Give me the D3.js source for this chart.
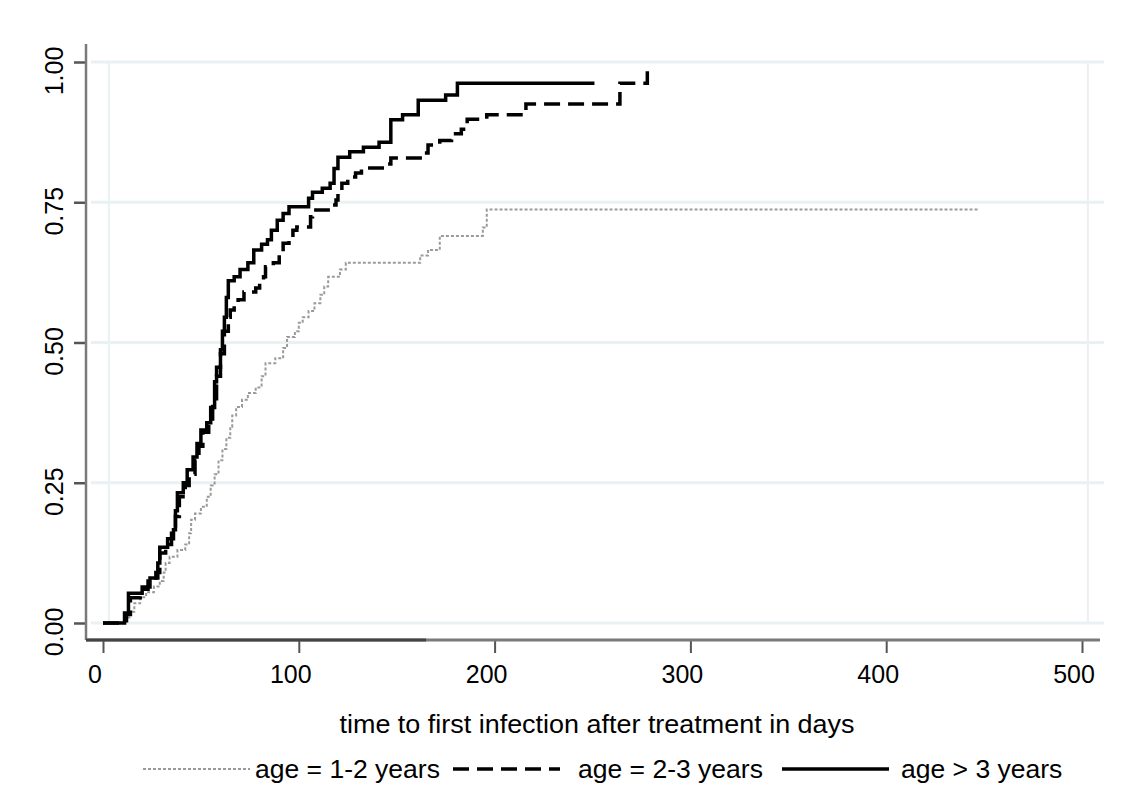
<!DOCTYPE html>
<html><head><meta charset="utf-8">
<script src="https://cdn.jsdelivr.net/npm/d3@7"></script>
<style>
html,body{margin:0;padding:0;background:#fff;}
svg{display:block;}
text{font-family:"Liberation Sans",Arial,sans-serif;fill:#000;}
</style></head>
<body>
<svg id="chart" width="1128" height="809"></svg>
<script>
// ---- data (days, cumulative proportion infected; step after) ----
const xTicks = [0, 100, 200, 300, 400, 500];
const yTicks = [0, 0.25, 0.5, 0.75, 1];
const yTickLabels = ["0.00", "0.25", "0.50", "0.75", "1.00"];
const seriesNames = ["age = 1-2 years", "age = 2-3 years", "age > 3 years"];
const xTitle = "time to first infection after treatment in days";

const age12 = [[0,0],[12,0.01],[14,0.02],[16,0.035],[19,0.046],[22,0.055],[26,0.065],[29,0.075],[31,0.09],[32,0.107],[34,0.118],[38,0.13],[42,0.14],[44,0.16],[45,0.184],[47,0.195],[50,0.207],[53,0.225],[55,0.245],[57,0.265],[59,0.29],[61,0.31],[63,0.33],[65,0.35],[66,0.37],[68,0.385],[71,0.398],[74,0.41],[78,0.42],[81,0.44],[83,0.463],[88,0.472],[92,0.49],[94,0.51],[98,0.52],[100,0.535],[102,0.545],[105,0.556],[108,0.57],[111,0.585],[113,0.6],[115,0.617],[121,0.63],[124,0.642],[162,0.655],[166,0.665],[172,0.69],[194,0.705],[196,0.737],[447,0.737]];
const age23 = [[0,0],[12,0.015],[14,0.045],[19,0.06],[23,0.075],[27,0.09],[29,0.125],[32,0.14],[35,0.16],[37,0.19],[39,0.225],[42,0.245],[44,0.265],[47,0.29],[49,0.315],[51,0.34],[54,0.36],[56,0.39],[58,0.44],[60,0.48],[62,0.52],[64,0.545],[65,0.558],[67,0.57],[69,0.576],[72,0.59],[78,0.597],[80,0.606],[82,0.617],[83,0.635],[87,0.642],[90,0.66],[92,0.677],[95,0.688],[97,0.7],[99,0.706],[106,0.724],[107,0.736],[115,0.745],[119,0.754],[120,0.766],[122,0.784],[125,0.795],[129,0.802],[132,0.811],[144,0.818],[147,0.829],[163,0.838],[166,0.852],[172,0.86],[178,0.872],[183,0.88],[186,0.898],[196,0.906],[216,0.925],[264,0.962],[278,0.986]];
const age3p = [[0,0],[11,0.018],[13,0.053],[20,0.064],[24,0.08],[28,0.107],[29,0.135],[33,0.15],[36,0.166],[37,0.2],[38,0.232],[41,0.25],[43,0.273],[46,0.296],[48,0.32],[50,0.344],[53,0.357],[55,0.384],[57,0.43],[58,0.456],[60,0.487],[61,0.52],[62,0.545],[63,0.58],[64,0.61],[67,0.617],[70,0.63],[74,0.642],[77,0.665],[81,0.675],[84,0.683],[86,0.7],[89,0.718],[92,0.73],[95,0.742],[105,0.757],[107,0.768],[112,0.775],[116,0.784],[118,0.81],[120,0.83],[126,0.84],[133,0.848],[141,0.857],[147,0.897],[153,0.906],[161,0.932],[175,0.941],[181,0.962],[251,0.962]];

// ---- layout ----
const svg = d3.select("#chart");
const x = d3.scaleLinear().domain([0, 500]).range([103, 1082]);
const y = d3.scaleLinear().domain([0, 1]).range([623, 62]);
const axisX = 86, axisY = 640;

// gridlines
svg.append("g").selectAll("line").data(yTicks).join("line")
  .attr("x1", 91).attr("x2", 1104)
  .attr("y1", d => y(d)).attr("y2", d => y(d))
  .attr("stroke", "#e9f1f3").attr("stroke-width", 3);
// plot region side borders
svg.append("g").selectAll("line").data([3, 503]).join("line")
  .attr("x1", d => x(d)).attr("x2", d => x(d))
  .attr("y1", y(1)).attr("y2", y(0))
  .attr("stroke", "#e9f1f3").attr("stroke-width", 2);

// y axis
const yAxis = d3.axisLeft(y).tickValues(yTicks).tickSize(12).tickFormat("");
const gy = svg.append("g").attr("transform", `translate(${axisX},0)`).call(yAxis);
gy.select(".domain").remove();
gy.selectAll(".tick line").attr("stroke", "#555").attr("stroke-width", 2.5);
svg.append("line").attr("x1", axisX).attr("x2", axisX).attr("y1", 44).attr("y2", axisY)
  .attr("stroke", "#7a7a7a").attr("stroke-width", 2.5);
svg.append("g").selectAll("text").data(yTicks).join("text")
  .attr("transform", d => `translate(63,${y(d) + 9}) rotate(-90)`)
  .attr("text-anchor", "middle").attr("font-size", 25)
  .text((d, i) => yTickLabels[i]);

// x axis
const xAxis = d3.axisBottom(x).tickValues(xTicks).tickSize(13).tickFormat("");
const gx = svg.append("g").attr("transform", `translate(0,${axisY})`).call(xAxis);
gx.select(".domain").remove();
gx.selectAll(".tick line").attr("stroke", "#555").attr("stroke-width", 2);
svg.append("line").attr("x1", axisX).attr("x2", 1100).attr("y1", axisY).attr("y2", axisY)
  .attr("stroke", "#7a7a7a").attr("stroke-width", 3);
svg.append("line").attr("x1", axisX).attr("x2", x(165)).attr("y1", axisY).attr("y2", axisY)
  .attr("stroke", "#444").attr("stroke-width", 3);
svg.append("g").selectAll("text").data(xTicks).join("text")
  .attr("x", d => x(d) - 8).attr("y", 683)
  .attr("text-anchor", "middle").attr("font-size", 25)
  .text(d => d);

svg.append("text").attr("x", 597).attr("y", 733).attr("text-anchor", "middle")
  .attr("font-size", 26).attr("textLength", 515).attr("lengthAdjust", "spacingAndGlyphs")
  .text(xTitle);

// curves
const line = d3.line().x(d => x(d[0])).y(d => y(d[1])).curve(d3.curveStepAfter);
const styles = [
  {data: age12, stroke: "#9a9a9a", width: 2, dash: "3,2"},
  {data: age23, stroke: "#000", width: 3.5, dash: "16,8"},
  {data: age3p, stroke: "#000", width: 3.5, dash: null}
];
styles.forEach(s => {
  svg.append("path").datum(s.data).attr("d", line)
    .attr("fill", "none").attr("stroke", s.stroke).attr("stroke-width", s.width)
    .attr("stroke-dasharray", s.dash).attr("stroke-linejoin", "miter");
});

// legend
const legX = [143, 453, 782];
const legTextX = [255, 578, 901];
const legW = 107;
const lg = svg.append("g");
styles.forEach((s, i) => {
  lg.append("line").attr("x1", legX[i]).attr("x2", legX[i] + legW).attr("y1", 769).attr("y2", 769)
    .attr("stroke", s.stroke).attr("stroke-width", s.width).attr("stroke-dasharray", s.dash);
  lg.append("text").attr("x", legTextX[i]).attr("y", 778).attr("font-size", 26.5)
    .text(seriesNames[i]);
});
</script>
</body></html>
